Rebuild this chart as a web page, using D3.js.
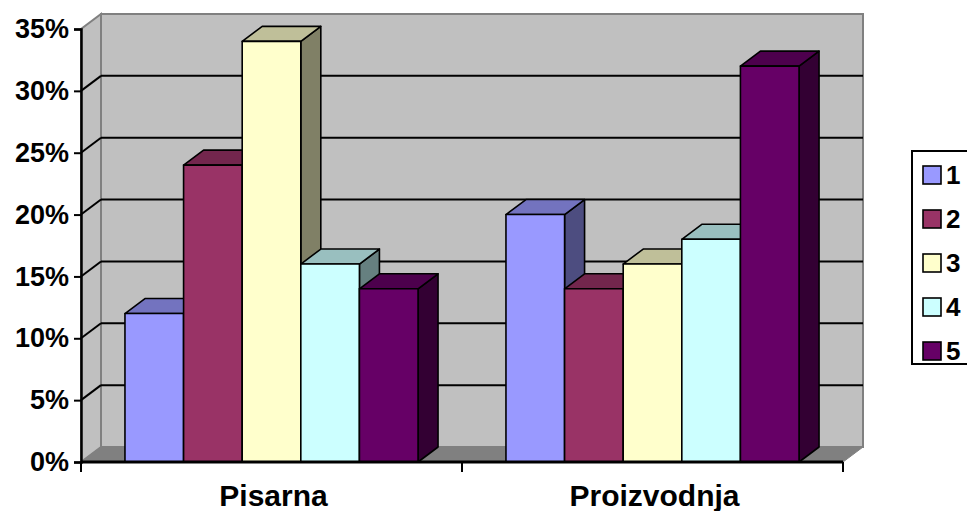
<!DOCTYPE html>
<html>
<head>
<meta charset="utf-8">
<script src="https://cdn.jsdelivr.net/npm/d3@7"></script>
<style>
  html, body { margin: 0; padding: 0; background: #fff; }
  svg { display: block; font-family: "Liberation Sans", Arial, sans-serif; font-weight: bold; }
</style>
</head>
<body>
<svg id="chart" width="967" height="511"></svg>
<script>
// Categories, series and values (shares)
const categories = ["Pisarna", "Proizvodnja"];
const seriesNames = ["1", "2", "3", "4", "5"];
const pisarna = [0.12, 0.24, 0.34, 0.16, 0.14];
const proizvodnja = [0.20, 0.14, 0.16, 0.18, 0.32];
const yTicks = [0, 0.05, 0.10, 0.15, 0.20, 0.25, 0.30, 0.35];
const seriesColors = ["#9999FF", "#993366", "#FFFFCC", "#CCFFFF", "#660066"];

const valuesByCategory = { "Pisarna": pisarna, "Proizvodnja": proizvodnja };

const svg = d3.select("#chart");

// Plot frame (front plane) and the 3D depth offset
const x0 = 81, x1 = 843, yTop = 29, yBottom = 462;
const DX = 20, DY = -15;

const y = d3.scaleLinear().domain([0, 0.35]).range([yBottom, yTop]);
const xCat = d3.scaleBand().domain(categories).range([x0, x1]).paddingInner(0).paddingOuter(0);
const xSeries = d3.scaleBand().domain(seriesNames).range([0, xCat.bandwidth()])
  .paddingInner(0).paddingOuter(0.75);

const shade = (c, k) => { const r = d3.rgb(c); return d3.rgb(r.r * k, r.g * k, r.b * k).formatHex(); };
const pts = a => a.map(p => p.join(",")).join(" ");

// Back wall
svg.append("rect")
  .attr("x", x0 + DX).attr("y", yTop + DY)
  .attr("width", x1 - x0).attr("height", yBottom - yTop)
  .attr("fill", "#C0C0C0").attr("stroke", "#808080").attr("stroke-width", 2);

// Left side wall
svg.append("polygon")
  .attr("points", pts([[x0, yBottom], [x0, yTop], [x0 + DX, yTop + DY], [x0 + DX, yBottom + DY]]))
  .attr("fill", "#C0C0C0").attr("stroke", "#808080").attr("stroke-width", 2);

// Floor
svg.append("polygon")
  .attr("points", pts([[x0, yBottom], [x0 + DX, yBottom + DY], [x1 + DX, yBottom + DY], [x1, yBottom]]))
  .attr("fill", "#808080").attr("stroke", "#808080").attr("stroke-width", 1);

// Gridlines on back wall and left wall
const gridVals = yTicks.filter(v => v > 0 && v < 0.35);
const grid = svg.append("g").attr("stroke", "#000").attr("stroke-width", 2).attr("fill", "none");
gridVals.forEach(v => {
  grid.append("line")
    .attr("x1", x0).attr("y1", y(v))
    .attr("x2", x0 + DX).attr("y2", y(v) + DY);
  grid.append("line")
    .attr("x1", x0 + DX).attr("y1", y(v) + DY)
    .attr("x2", x1 + DX).attr("y2", y(v) + DY);
});

// Bars: front face, top face, right side face
const bars = svg.append("g").attr("stroke", "#000").attr("stroke-width", 1.6).attr("stroke-linejoin", "round");
categories.forEach(cat => {
  const vals = valuesByCategory[cat];
  seriesNames.forEach((s, i) => {
    const bx = xCat(cat) + xSeries(s);
    const bw = xSeries.bandwidth();
    const top = y(vals[i]);
    const col = seriesColors[i];
    const g = bars.append("g");
    g.append("polygon")
      .attr("points", pts([[bx + bw, yBottom], [bx + bw, top], [bx + bw + DX, top + DY], [bx + bw + DX, yBottom + DY]]))
      .attr("fill", shade(col, 0.5));
    g.append("polygon")
      .attr("points", pts([[bx, top], [bx + DX, top + DY], [bx + bw + DX, top + DY], [bx + bw, top]]))
      .attr("fill", shade(col, 0.75));
    g.append("rect")
      .attr("x", bx).attr("y", top).attr("width", bw).attr("height", yBottom - top)
      .attr("fill", col);
  });
});

// Value axis
const yAxis = svg.append("g").attr("transform", `translate(${x0},0)`)
  .call(d3.axisLeft(y).tickValues(yTicks).tickSize(7).tickPadding(5).tickFormat(d3.format(".0%")));
yAxis.select(".domain").attr("stroke", "#000").attr("stroke-width", 2.5);
yAxis.selectAll(".tick line").attr("stroke", "#000").attr("stroke-width", 2);
yAxis.selectAll(".tick text")
  .attr("font-size", 27).attr("font-weight", "bold").attr("fill", "#000")
  .attr("font-family", "Liberation Sans, Arial, sans-serif");

// Category axis
const xAxis = svg.append("g").attr("transform", `translate(0,${yBottom})`);
xAxis.append("line").attr("x1", x0).attr("x2", x1).attr("y1", 0).attr("y2", 0)
  .attr("stroke", "#000").attr("stroke-width", 3);
const catEdges = categories.map(c => xCat(c)).concat([x1]);
xAxis.selectAll("line.tick").data(catEdges).join("line").attr("class", "tick")
  .attr("x1", d => d).attr("x2", d => d).attr("y1", 0).attr("y2", 10)
  .attr("stroke", "#000").attr("stroke-width", 2);
xAxis.selectAll("text").data(categories).join("text")
  .attr("x", d => xCat(d) + xCat.bandwidth() / 2 + 2)
  .attr("y", 44)
  .attr("text-anchor", "middle")
  .attr("font-size", 30).attr("fill", "#000")
  .text(d => d);

// Legend
const legend = svg.append("g");
legend.append("rect").attr("x", 912).attr("y", 151).attr("width", 80).attr("height", 213)
  .attr("fill", "#fff").attr("stroke", "#000").attr("stroke-width", 2);
const legendY = d3.scalePoint().domain(seriesNames).range([175, 351]);
seriesNames.forEach((s, i) => {
  legend.append("rect").attr("x", 923).attr("y", legendY(s) - 9).attr("width", 18).attr("height", 18)
    .attr("fill", seriesColors[i]).attr("stroke", "#000").attr("stroke-width", 1.6);
  legend.append("text").attr("x", 946).attr("y", legendY(s)).attr("dy", "0.36em")
    .attr("font-size", 26).attr("fill", "#000").text(s);
});
</script>
</body>
</html>
